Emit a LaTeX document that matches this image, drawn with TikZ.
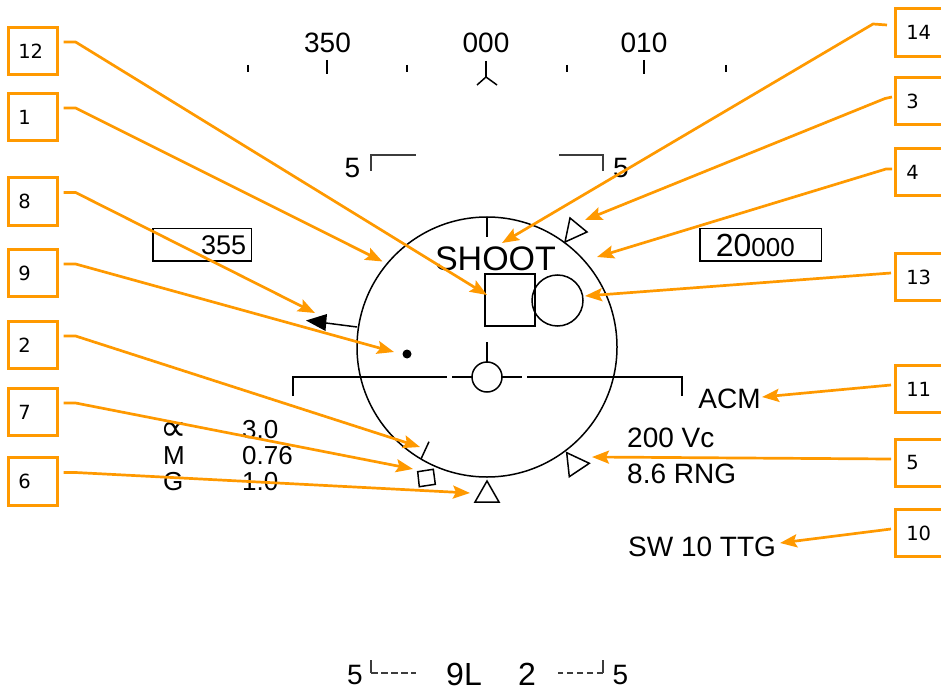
\documentclass[tikz,border=0pt]{standalone}
\usepackage{fontspec}
\setmainfont{Liberation Sans}
\newfontfamily\lblfont{DejaVu Sans}
\newfontfamily\symfont{DejaVu Sans}
\usetikzlibrary{arrows.meta,calc}
\definecolor{callout}{RGB}{255,153,0}
\definecolor{hudgray}{RGB}{60,60,60}
\newcommand\hudfs[1]{\fontsize{#1}{#1}\selectfont}
\begin{document}
\begin{tikzpicture}[x=1pt,y=-1pt,
  hud/.style={line width=1.5pt, black},
  bracket/.style={line width=1.3pt, hudgray},
  txt/.style={inner sep=0pt, font=\hudfs{28}},
  lbox/.style={draw=callout, line width=2.6pt, minimum height=47.5pt,
    text width=29pt, inner xsep=10pt, align=left, font=\lblfont\hudfs{19.5}},
  rbox/.style={draw=callout, line width=2.6pt, minimum height=47.5pt,
    text width=33pt, inner xsep=11pt, align=left, font=\lblfont\hudfs{19.5}},
  valbox/.style={draw, line width=1.5pt, minimum height=32.5pt, inner ysep=0pt},
  callarrow/.style={callout, line width=2.7pt, line join=round,
    -{Stealth[length=17pt,width=13pt,inset=3pt]}}
]
\useasboundingbox (0,0) rectangle (941,692);

% ---------------- heading tape ----------------
\node[txt] (h350) at (327.5,43) {350};
\node[txt] (h000) at (486,43) {000};
\node[txt] (h010) at (644,43) {010};
\draw[hud] (327,60) -- (327,74);
\draw[hud] (644,60) -- (644,74);
\foreach \x in {248,407,567,726} \draw[hud] (\x,65) -- (\x,72);
\draw[hud] (486,61) -- (486,77);
\draw[hud] (477,85) -- (486,77) -- (497,85);

% ---------------- pitch ladder top ----------------
\draw[bracket] (371,171) -- (371,155) -- (416,155);
\draw[bracket] (559,155) -- (603,155) -- (603,171);
\node[txt] (p5l) at (352.5,168) {5};
\node[txt] (p5r) at (620.8,168) {5};

% ---------------- value boxes ----------------
\node[valbox, text width=88.5pt, inner xsep=5pt, align=right, font=\hudfs{27}]
  (hdgbox) at (202,245) {355};
\node[valbox, text width=89.5pt, inner xsep=16pt, align=left]
  (altbox) at (760.5,245) {{\hudfs{32}20}{\hudfs{26}000}};

% ---------------- reticle ----------------
\draw[hud] (487,347) circle[radius=130pt];
\draw[hud] (487,217) -- (487,237);
\node[txt, font=\hudfs{34}] (shoot) at (495.5,259) {SHOOT};
\draw[hud] (485,274) rectangle (535,326);
\draw[hud] (557.5,300.5) circle[radius=25.5pt];
% triangle 3
\draw[hud, line join=miter] (570,218) -- (587,232) -- (565,242) -- cycle;
% triangle 5
\draw[hud] (566.7,452.7) -- (589.3,463.3) -- (569.3,476.7) -- cycle;
% triangle 6
\draw[hud] (487,481) -- (499,502) -- (475,502) -- cycle;
% square 7
\draw[hud] (417.7,471.7) -- (433.3,469.3) -- (435.3,484.3) -- (419.3,486.7) -- cycle;
% tick 2
\draw[hud] (429,441.7) -- (421,459);
% arrow 8
\draw[hud] (357,327) -- (326,323);
\fill (306,320.5) -- (327,314) -- (325.5,331) -- cycle;
% dot 9
\fill (407,354) circle[radius=4.5pt];
% horizon / waterline
\draw[hud] (293,396) -- (293,377) -- (447,377);
\draw[hud] (452,377) -- (472,377);
\draw[hud] (487,377) circle[radius=15pt];
\draw[hud] (502,377) -- (522,377);
\draw[hud] (527,377) -- (682,377) -- (682,396);
\draw[hud] (487,342) -- (487,362);

% ---------------- data text ----------------
\node[txt] (acm) at (729.5,399) {ACM};
\node[txt, anchor=west] (vc) at (627,437.5) {200 Vc};
\node[txt, anchor=west] (rng) at (627,474) {8.6 RNG};
\node[txt, anchor=west] (ttg) at (628,547) {SW 10 TTG};

\node[txt, anchor=base, text height=16pt, text depth=0pt,
      font=\symfont\hudfs{37}] (alpha) at (174,440.5) {∝};
\node[txt, anchor=west, font=\hudfs{26}] (mach) at (163,455.5) {M};
\node[txt, anchor=west, font=\hudfs{26}] (gee) at (163,482) {G};
\node[txt, anchor=west, font=\hudfs{26}] (alphav) at (242,430) {3.0};
\node[txt, anchor=west, font=\hudfs{26}] (machv) at (242,455.5) {0.76};
\node[txt, anchor=west, font=\hudfs{26}] (geev) at (242,482) {1.0};

% ---------------- bottom ----------------
\draw[bracket] (371,660) -- (371,673);
\draw[bracket, dash pattern=on 6.5pt off 3.5pt] (371,673) -- (416,673);
\draw[bracket] (603,660) -- (603,673);
\draw[bracket, dash pattern=on 6.5pt off 3.5pt] (603,673) -- (558,673);
\node[txt] (b5l) at (355,675) {5};
\node[txt, font=\hudfs{32}] (rwy) at (464,674) {9L};
\node[txt, font=\hudfs{32}] (two) at (527,674.5) {2};
\node[txt] (b5r) at (620.5,675) {5};

% ---------------- callout boxes ----------------
\node[lbox] (b12) at (32.8,51) {12};
\node[lbox] (b1) at (32.8,117) {1};
\node[lbox] (b8) at (32.8,201.5) {8};
\node[lbox] (b9) at (32.8,273) {9};
\node[lbox] (b2) at (32.8,345) {2};
\node[lbox] (b7) at (32.8,412) {7};
\node[lbox] (b6) at (32.8,481.5) {6};

\node[rbox] (b14) at (922.8,32.5) {14};
\node[rbox] (b3) at (922.8,101) {3};
\node[rbox] (b4) at (922.8,172) {4};
\node[rbox] (b13) at (922.8,277) {13};
\node[rbox] (b11) at (922.8,389) {11};
\node[rbox] (b5) at (922.8,463) {5};
\node[rbox] (b10) at (922.8,533) {10};

% ---------------- callout targets ----------------
\coordinate (t12) at (487,295);
\coordinate (t1) at (382.5,261.5);
\coordinate (t8) at (315,313);
\coordinate (t9) at (394,352);
\coordinate (t2) at (420,447);
\coordinate (t7) at (413,469);
\coordinate (t6) at (470,493);
\coordinate (t14) at (502,243);
\coordinate (t3) at (585,220);
\coordinate (t4) at (597,257);
\coordinate (t13) at (585,296);
\coordinate (t11) at (762,397);
\coordinate (t5) at (592,457);
\coordinate (t10) at (780,543);

% ---------------- callout connectors ----------------
\foreach \b/\t in {b12/t12, b1/t1, b8/t8, b9/t9, b2/t2, b7/t7, b6/t6}
  \draw[callarrow] ($(\b.east)+(5,-9)$) -- ++(12,0) -- (\t);
\draw[callarrow] ($(b14.west)+(-7,-7.5)$) -- ++(-14,-1) -- (t14);
\draw[callarrow] ($(b3.west)+(-2,-4)$) -- ++(-7,1.5) -- (t3);
\draw[callarrow] ($(b4.west)+(-2,-3)$) -- ++(-6,0) -- (t4);
\foreach \b/\t in {b13/t13, b11/t11, b5/t5, b10/t10}
  \draw[callarrow] ($(\b.west)+(-3,-4)$) -- (\t);
\end{tikzpicture}
\end{document}
